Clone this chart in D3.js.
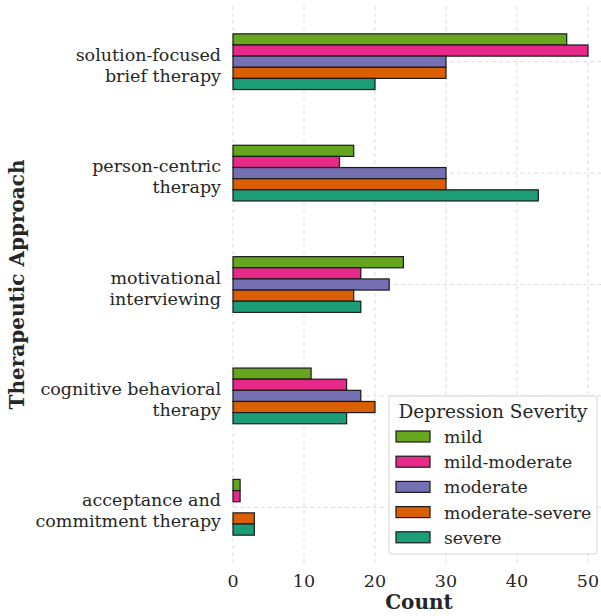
<!DOCTYPE html>
<html>
<head>
<meta charset="utf-8">
<script src="https://cdn.jsdelivr.net/npm/d3@7"></script>
<style>
  body { margin: 0; background: #fff; }
  text { font-family: "DejaVu Serif", serif; fill: #262626; }
</style>
</head>
<body>
<svg id="chart" width="601" height="616"></svg>
<script>
const approaches = [
  "solution-focused\nbrief therapy",
  "person-centric\ntherapy",
  "motivational\ninterviewing",
  "cognitive behavioral\ntherapy",
  "acceptance and\ncommitment therapy",
];
const severities = ["mild", "mild-moderate", "moderate", "moderate-severe", "severe"];
const colors = ["#66a61e", "#e7298a", "#7570b3", "#d95f02", "#1b9e77"];

// counts per approach, in severity order
const mild = [47, 17, 24, 11, 1];
const mildModerate = [50, 15, 18, 16, 1];
const moderate = [30, 30, 22, 18, 0];
const moderateSevere = [30, 30, 17, 20, 3];
const severe = [20, 43, 18, 16, 3];
const series = [mild, mildModerate, moderate, moderateSevere, severe];

const xTicks = [0, 10, 20, 30, 40, 50];

const margin = { top: 6, left: 233, bottom: 563 };
const width = 601, height = 616;

const svg = d3.select("#chart");

const x = d3.scaleLinear().domain([0, 52.5]).range([margin.left, margin.left + 52.5 * 7.1]);
const y = d3.scaleBand().domain(approaches).range([margin.top, margin.bottom]);
const inner = d3.scaleBand().domain(severities).range([0, y.bandwidth() * 0.5]);

// grid
const grid = svg.append("g").attr("stroke", "#dddddd").attr("stroke-dasharray", "4,3").attr("stroke-width", 1);
grid.selectAll("line.v")
  .data(xTicks)
  .join("line")
  .attr("class", "v")
  .attr("x1", d => x(d)).attr("x2", d => x(d))
  .attr("y1", margin.top).attr("y2", margin.bottom);
grid.selectAll("line.h")
  .data(approaches)
  .join("line")
  .attr("class", "h")
  .attr("x1", margin.left).attr("x2", width)
  .attr("y1", d => y(d) + y.bandwidth() / 2)
  .attr("y2", d => y(d) + y.bandwidth() / 2);

// bars
const rows = [];
approaches.forEach((a, i) => {
  severities.forEach((s, j) => {
    rows.push({ approach: a, severity: s, value: series[j][i], color: colors[j] });
  });
});

svg.append("g")
  .selectAll("rect")
  .data(rows)
  .join("rect")
  .attr("x", x(0))
  .attr("y", d => y(d.approach) + y.bandwidth() * 0.25 + inner(d.severity))
  .attr("width", d => x(d.value) - x(0))
  .attr("height", inner.bandwidth())
  .attr("fill", d => d.color)
  .attr("stroke", "#1a1a1a")
  .attr("stroke-width", 1.2);

// y tick labels
const yl = svg.append("g")
  .selectAll("text")
  .data(approaches)
  .join("text")
  .attr("text-anchor", "end")
  .attr("font-size", 17.5)
  .attr("x", 221)
  .attr("y", d => y(d) + y.bandwidth() / 2 - 1);
yl.each(function (d) {
  const lines = d.split("\n");
  d3.select(this).selectAll("tspan")
    .data(lines)
    .join("tspan")
    .attr("x", 221)
    .attr("dy", (l, k) => k === 0 ? 0 : 21)
    .text(l => l);
});

// x tick labels
svg.append("g")
  .selectAll("text")
  .data(xTicks)
  .join("text")
  .attr("text-anchor", "middle")
  .attr("font-size", 17.5)
  .attr("x", d => x(d))
  .attr("y", 587)
  .text(d => d);

// axis titles
svg.append("text")
  .attr("x", 419)
  .attr("y", 609)
  .attr("text-anchor", "middle")
  .attr("font-size", 20)
  .attr("font-weight", "bold")
  .text("Count");

svg.append("text")
  .attr("transform", `translate(24, ${(margin.top + margin.bottom) / 2}) rotate(-90)`)
  .attr("text-anchor", "middle")
  .attr("font-size", 20)
  .attr("font-weight", "bold")
  .text("Therapeutic Approach");

// legend
const legend = svg.append("g").attr("transform", "translate(389, 396)");
legend.append("rect")
  .attr("width", 208).attr("height", 158).attr("rx", 3)
  .attr("fill", "#fff").attr("fill-opacity", 0.85)
  .attr("stroke", "#d6d6d6");
legend.append("text")
  .attr("x", 104).attr("y", 22)
  .attr("text-anchor", "middle")
  .attr("font-size", 18.5)
  .text("Depression Severity");
const items = legend.selectAll("g.item")
  .data(severities)
  .join("g")
  .attr("class", "item")
  .attr("transform", (d, i) => `translate(0, ${41 + i * 25.2})`);
items.append("rect")
  .attr("x", 7).attr("y", -6)
  .attr("width", 34).attr("height", 11)
  .attr("fill", (d, i) => colors[i])
  .attr("stroke", "#1a1a1a").attr("stroke-width", 1.2);
items.append("text")
  .attr("x", 55).attr("y", 6)
  .attr("font-size", 17.3)
  .text(d => d);
</script>
</body>
</html>
